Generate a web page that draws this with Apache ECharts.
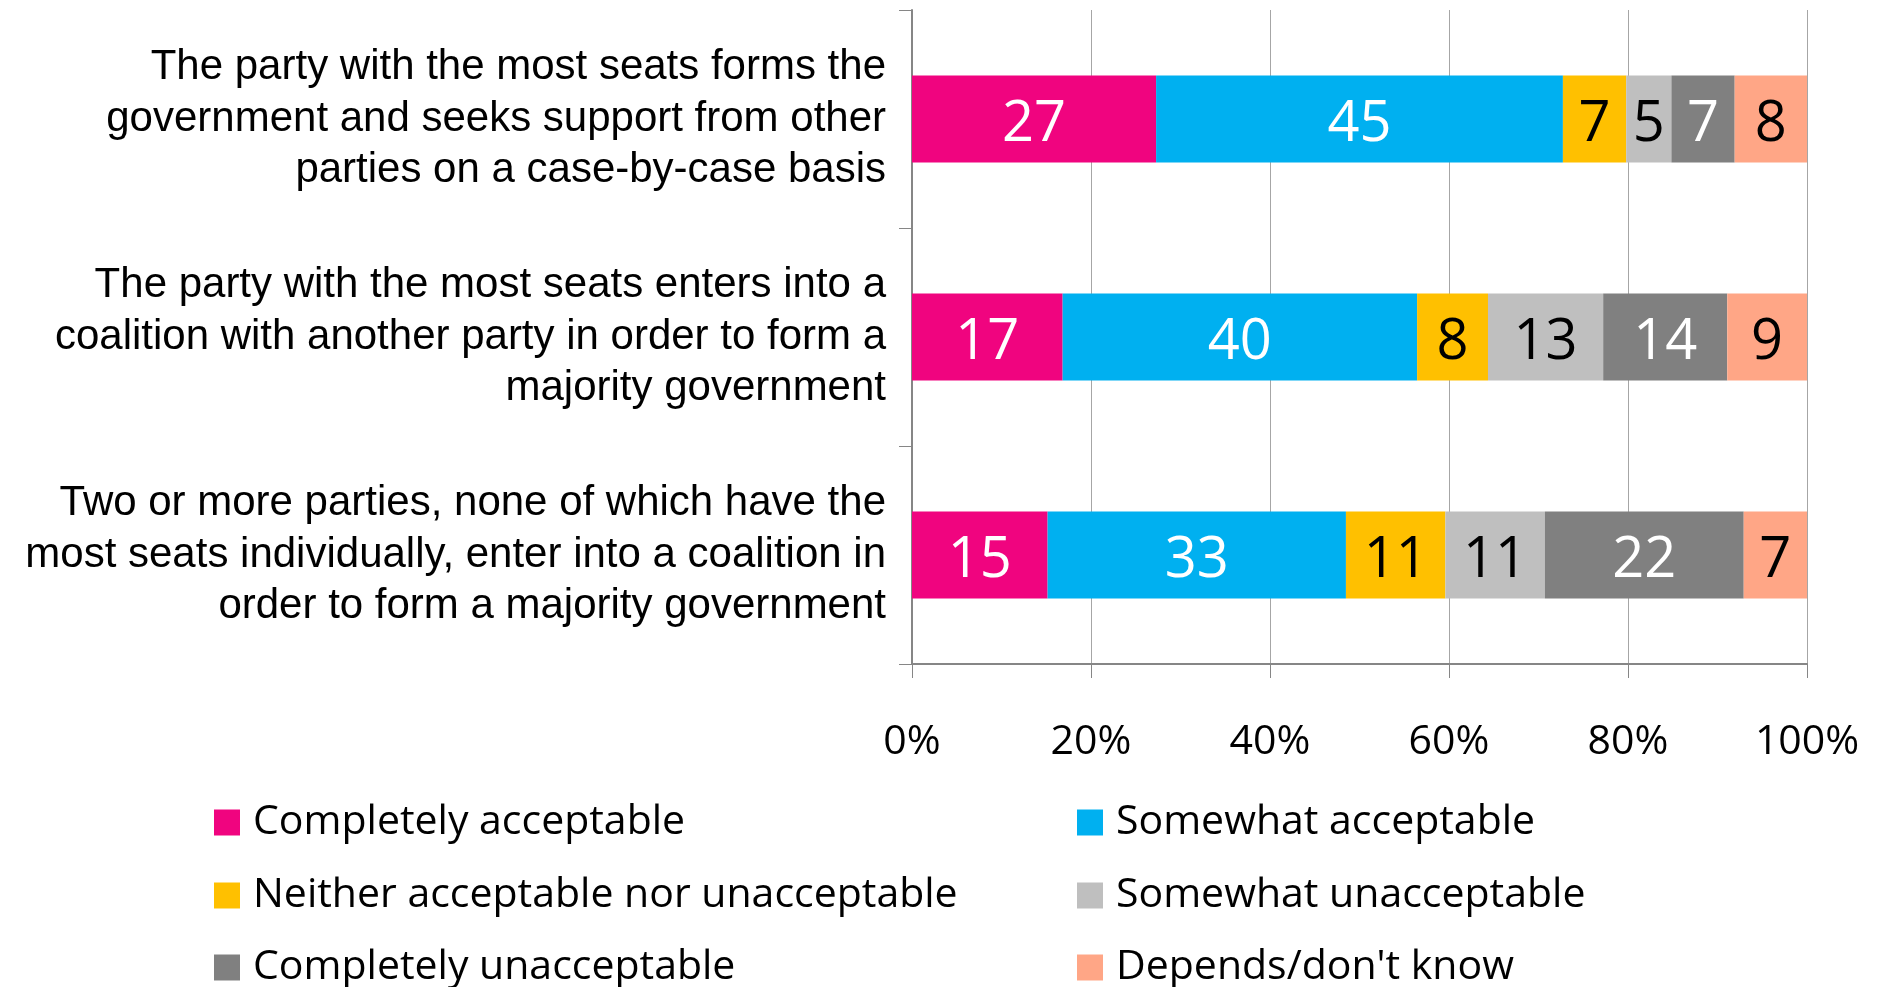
<!DOCTYPE html>
<html>
<head>
<meta charset="utf-8">
<script src="https://cdn.jsdelivr.net/npm/echarts@6/dist/echarts.min.js"></script>
<style>
  html, body { margin: 0; padding: 0; background: #fff; }
  #chart { width: 1881px; height: 987px; }
</style>
</head>
<body>
<div id="chart"></div>
<script>
  const categories = [
    'The party with the most seats forms the\ngovernment and seeks support from other\nparties on a case-by-case basis',
    'The party with the most seats enters into a\ncoalition with another party in order to form a\nmajority government',
    'Two or more parties, none of which have the\nmost seats individually, enter into a coalition in\norder to form a majority government',
  ];
  const seriesNames = [
    'Completely acceptable',
    'Somewhat acceptable',
    'Neither acceptable nor unacceptable',
    'Somewhat unacceptable',
    'Completely unacceptable',
    "Depends/don't know",
  ];
  const completelyAcceptable = [27, 17, 15];
  const somewhatAcceptable = [45, 40, 33];
  const neither = [7, 8, 11];
  const somewhatUnacceptable = [5, 13, 11];
  const completelyUnacceptable = [7, 14, 22];
  const dependsDontKnow = [8, 9, 7];
  const tickLabels = ['0%', '20%', '40%', '60%', '80%', '100%'];

  const values = [completelyAcceptable, somewhatAcceptable, neither, somewhatUnacceptable, completelyUnacceptable, dependsDontKnow];
  const colors = ['#F0047F', '#00B0F0', '#FFC000', '#BFBFBF', '#808080', '#FFA686'];
  const labelColors = ['#fff', '#fff', '#000', '#000', '#fff', '#000'];

  // each bar is drawn as a share of its own total (bars fill to 100%)
  const totals = categories.map((c, i) => values.reduce((s, arr) => s + arr[i], 0));

  const chart = echarts.init(document.getElementById('chart'));

  const legendPos = [
    { left: 214, top: 802 },
    { left: 1077, top: 802 },
    { left: 214, top: 875 },
    { left: 1077, top: 875 },
    { left: 214, top: 947 },
    { left: 1077, top: 947 },
  ];

  const options = {
    animation: false,
    grid: { left: 912, right: 74, top: 10, bottom: 323, containLabel: false },
    legend: seriesNames.map((name, i) => ({
      data: [name],
      left: legendPos[i].left,
      top: legendPos[i].top,
      padding: 0,
      icon: 'rect',
      itemWidth: 26,
      itemHeight: 26,
      selectedMode: false,
      textStyle: {
        fontFamily: 'Open Sans',
        fontSize: 41,
        color: '#000',
        padding: [0, 0, 0, 8],
      },
    })),
    xAxis: {
      type: 'value',
      min: 0,
      max: 100,
      interval: 20,
      axisLine: { show: true, lineStyle: { color: '#868686', width: 2 } },
      axisTick: { show: true, length: 14, lineStyle: { color: '#868686' } },
      splitLine: { show: true, lineStyle: { color: '#A6A6A6', width: 1 } },
      axisLabel: {
        margin: 58,
        fontFamily: 'Open Sans',
        fontSize: 41,
        color: '#000',
        formatter: (v) => tickLabels[Math.round(v / 20)],
      },
    },
    yAxis: {
      type: 'category',
      inverse: true,
      data: categories,
      axisLine: { show: true, lineStyle: { color: '#868686', width: 2 } },
      axisTick: { show: true, length: 13, lineStyle: { color: '#868686' } },
      axisLabel: {
        margin: 26,
        fontFamily: 'Liberation Sans',
        fontSize: 42,
        lineHeight: 51.5,
        padding: [0, 0, 9, 0],
        color: '#000',
        align: 'right',
      },
    },
    series: seriesNames.map((name, s) => ({
      name: name,
      type: 'bar',
      stack: 'total',
      barCategoryGap: '60%',
      data: values[s].map((v, i) => (v / totals[i]) * 100),
      itemStyle: { color: colors[s] },
      label: {
        show: true,
        position: 'inside',
        offset: [0, 6],
        fontFamily: 'Open Sans',
        fontSize: 56,
        color: labelColors[s],
        formatter: (p) => values[s][p.dataIndex],
      },
    })),
  };

  chart.setOption(options);
</script>
</body>
</html>
